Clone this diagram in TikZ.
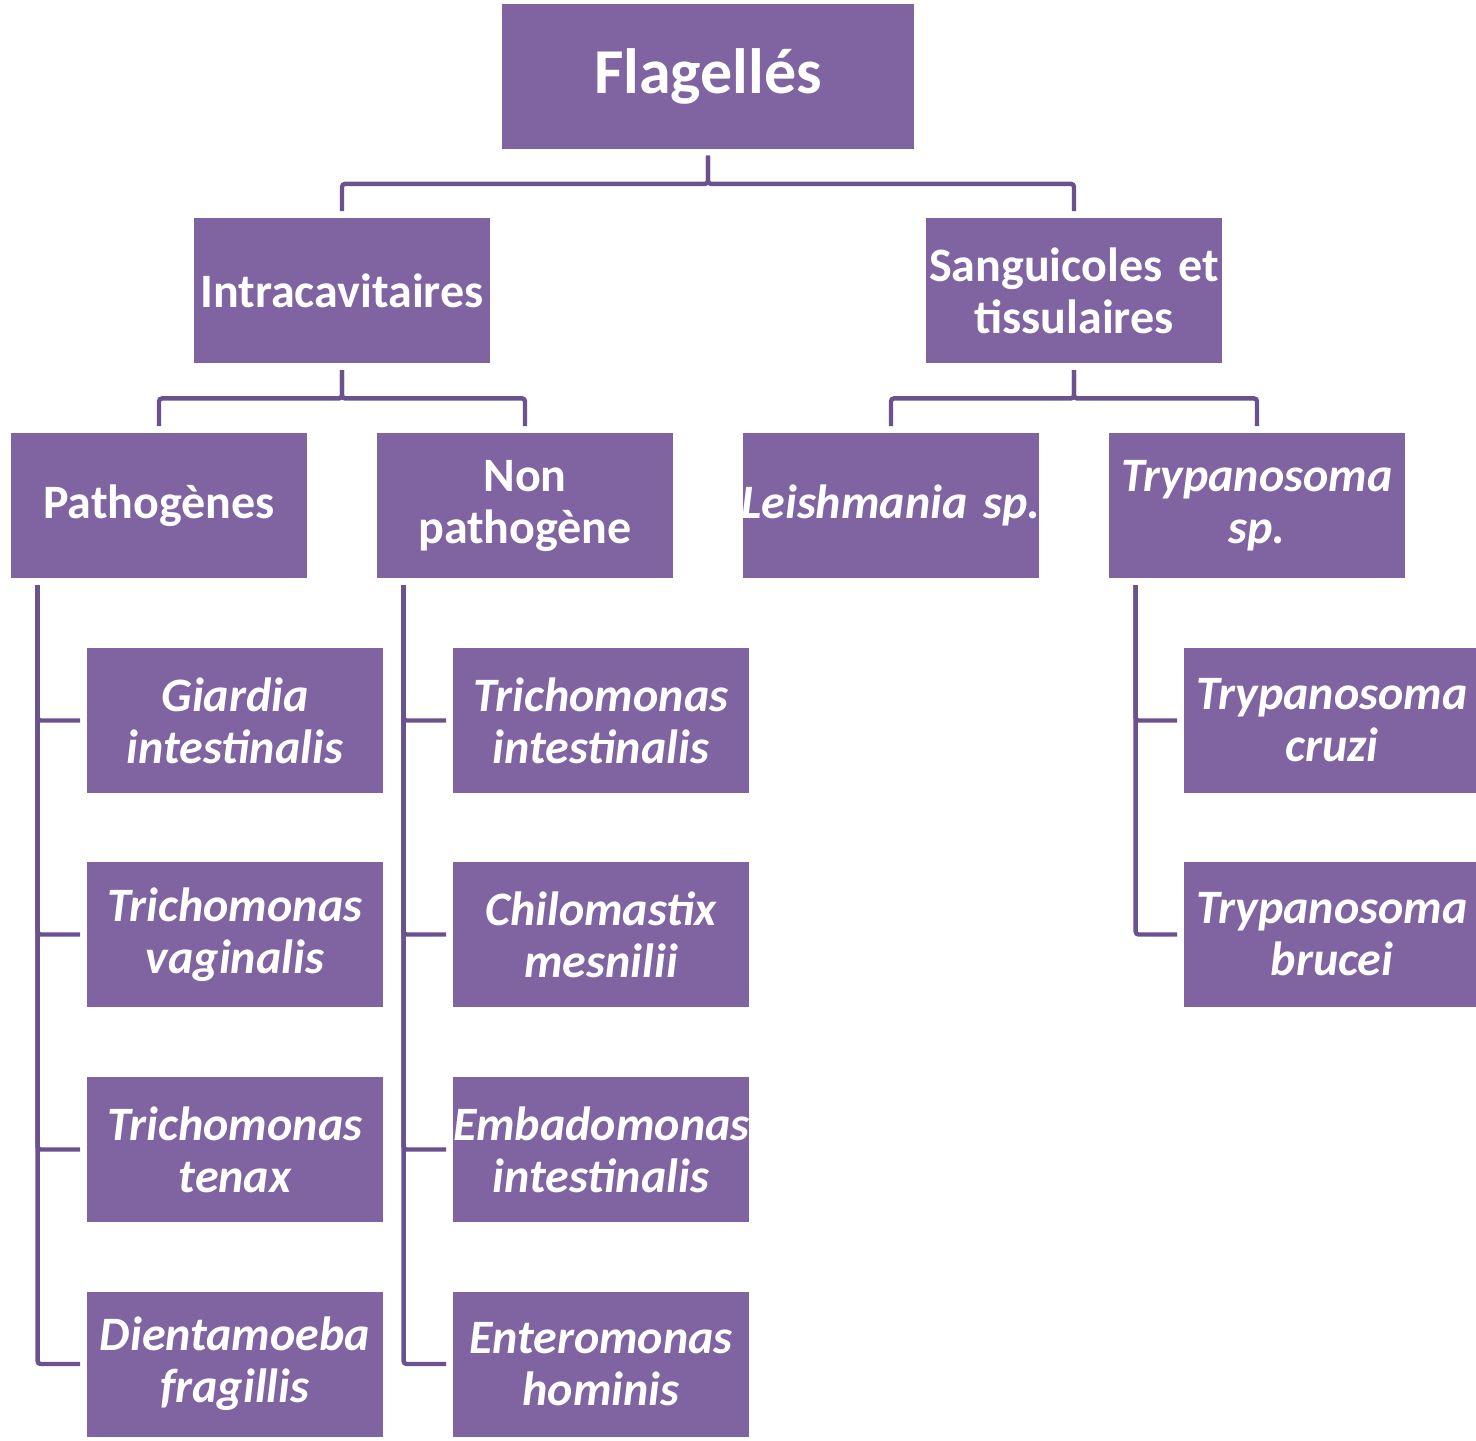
\documentclass[tikz,border=0pt]{standalone}
\usepackage{fontspec}
\setmainfont{Carlito}
\definecolor{boxfill}{RGB}{128,100,162}
\definecolor{linkcol}{RGB}{106,82,142}
\begin{document}
\begin{tikzpicture}[x=0.5pt,y=-0.5pt,
  box/.style={fill=boxfill, text=white, inner sep=0pt, align=center,
    minimum width=148pt, minimum height=72.5pt, text width=148pt,
    font=\fontsize{24}{26}\selectfont\bfseries},
  species/.style={box, font=\fontsize{24}{26}\selectfont\bfseries\itshape},
  conn/.style={draw=linkcol, line width=2.2pt, rounded corners=1.5pt,
    shorten <=3.3pt, shorten >=3.3pt}]
\useasboundingbox (0,0) rectangle (1476,1440);

% root
\node[box, minimum width=206pt, text width=206pt,
  font=\fontsize{32}{36}\selectfont\bfseries] (flag) at (708,76) {Flagellés};

% second level
\node[box] (intra) at (342,290.5) {Intracavitaires};
\node[box] (sang) at (1074,290.5) {Sanguicoles et\\tissulaires};

% third level
\node[box] (patho) at (159,505.5) {Pathogènes};
\node[box] (nonpatho) at (525,505.5) {Non\\pathogène};
\node[species] (leish) at (891,505.5) {\makebox[\linewidth]{Leishmania sp.}};
\node[species] (trypsp) at (1257,505.5) {Trypanosoma\\sp.};

% pathogenic species
\node[species] (giardia) at (235,720.5) {Giardia\\intestinalis};
\node[species] (tvag) at (235,934.5) {Trichomonas\\vaginalis};
\node[species] (tten) at (235,1149.5) {Trichomonas\\tenax};
\node[species] (dient) at (235,1364) {Dientamoeba\\fragillis};

% non-pathogenic species
\node[species] (tint) at (601,720.5) {Trichomonas\\intestinalis};
\node[species] (chilo) at (601,934.5) {Chilomastix\\mesnilii};
\node[species] (embado) at (601,1149.5) {Embadomonas\\intestinalis};
\node[species] (entero) at (601,1364) {Enteromonas\\hominis};

% trypanosomes
\node[species] (cruzi) at (1332,720.5) {Trypanosoma\\cruzi};
\node[species] (brucei) at (1332,934.5) {Trypanosoma\\brucei};

% tree connectors
\draw[conn] (flag.south) -- ++(0,35) -| (intra.north);
\draw[conn] (flag.south) -- ++(0,35) -| (sang.north);
\draw[conn] (intra.south) -- ++(0,35) -| (patho.north);
\draw[conn] (intra.south) -- ++(0,35) -| (nonpatho.north);
\draw[conn] (sang.south) -- ++(0,35) -| (leish.north);
\draw[conn] (sang.south) -- ++(0,35) -| (trypsp.north);

% side rails
\foreach \c in {giardia,tvag,tten,dient}
  \draw[conn] ([xshift=13.5pt]patho.south west) |- (\c.west);
\foreach \c in {tint,chilo,embado,entero}
  \draw[conn] ([xshift=13.5pt]nonpatho.south west) |- (\c.west);
\foreach \c in {cruzi,brucei}
  \draw[conn] ([xshift=13.5pt]trypsp.south west) |- (\c.west);
\end{tikzpicture}
\end{document}
